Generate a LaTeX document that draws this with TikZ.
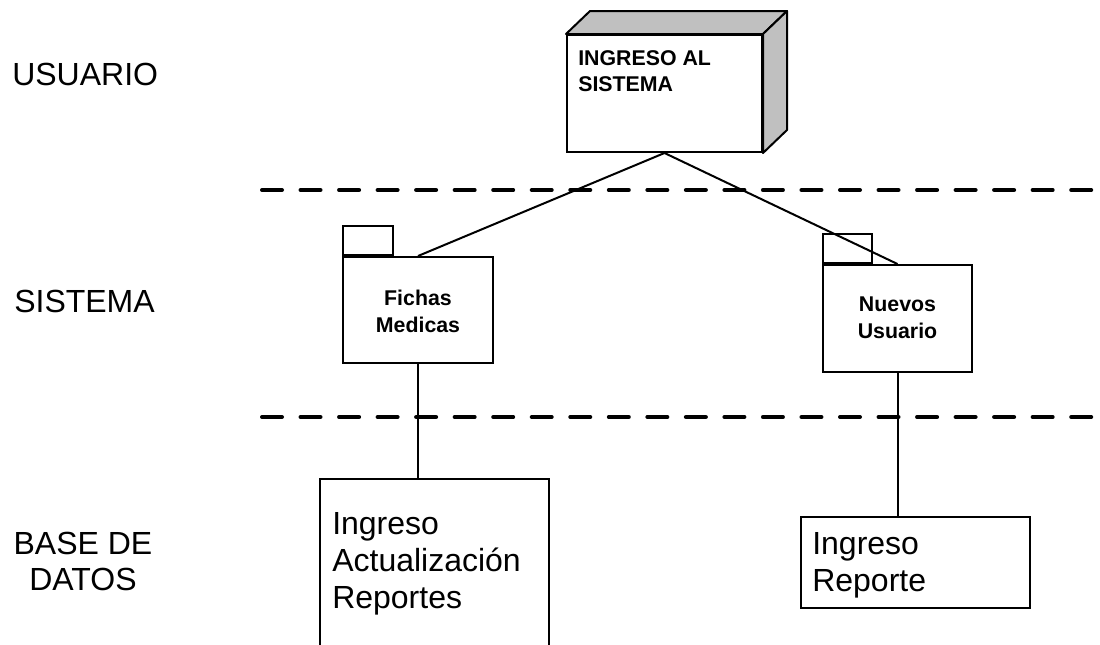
\documentclass[tikz,border=0pt]{standalone}
\usepackage{fontspec}
\setmainfont{Liberation Sans}
\definecolor{cubegray}{HTML}{C0C0C0}
\begin{document}
\begin{tikzpicture}[x=0.75pt,y=-0.75pt,
  outline/.style={draw=black,line width=1.5pt,fill=white,inner sep=0pt},
  link/.style={draw=black,line width=1.5pt},
  separator/.style={line width=3pt,line cap=round,dash pattern=on 15pt off 13.9pt},
  lane/.style={font=\fontsize{24}{27}\selectfont,inner sep=0pt},
  pkgtext/.style={font=\fontsize{16}{20}\selectfont\bfseries,align=center,inner sep=0pt,anchor=north},
  itemtext/.style={font=\fontsize{24}{28}\selectfont,align=left,inner sep=0pt,anchor=north west}]
\useasboundingbox (0,0) rectangle (1100,644);

% lane separators
\draw[separator] (262,190) -- (1100,190);
\draw[separator] (262,417) -- (1100,417);

% lane titles
\node[lane,anchor=north west] (usuario) at (12,63) {USUARIO};
\node[lane,anchor=north west] (sistema) at (14,290) {SISTEMA};
\node[lane,anchor=north,align=center] (basedatos) at (83,532) {BASE DE\\DATOS};

% 3D node: front face plus shaded top and side
\node[outline,minimum width={195*0.75pt},minimum height={117*0.75pt}] (ing) at (664.5,93.5) {};
\draw[line width=1.5pt,line join=round,fill=cubegray] (ing.north west) -- ([shift={(24,-23)}]ing.north west)
  -- ([shift={(24,-23)}]ing.north east) -- (ing.north east) -- cycle;
\draw[line width=1.5pt,line join=round,fill=cubegray] (ing.north east) -- ([shift={(24,-23)}]ing.north east)
  -- ([shift={(24,-23)}]ing.south east) -- (ing.south east) -- cycle;
\node[font=\fontsize{16}{20}\selectfont\bfseries,align=left,inner sep=0pt,anchor=north west] (ingtext) at (578,50) {INGRESO AL\\SISTEMA};

% packages
\node[outline,minimum width={150*0.75pt},minimum height={106*0.75pt}] (fm) at (418,310) {};
\node[outline,minimum width={50*0.75pt},minimum height={29*0.75pt},anchor=south west] (fmtab) at (fm.north west) {};
\node[pkgtext] (fmtext) at (418,290) {Fichas\\Medicas};

\node[outline,minimum width={149*0.75pt},minimum height={107*0.75pt}] (nu) at (897.5,318.5) {};
\node[outline,minimum width={49*0.75pt},minimum height={29*0.75pt},anchor=south west] (nutab) at (nu.north west) {};
\node[pkgtext] (nutext) at (897.5,297) {Nuevos\\Usuario};

% data boxes
\node[outline,minimum width={229*0.75pt},minimum height={190*0.75pt},anchor=north west] (db1) at (319,478) {};
\node[itemtext] (db1text) at (332,512) {Ingreso\\Actualización\\Reportes};

\node[outline,minimum width={229*0.75pt},minimum height={91*0.75pt},anchor=north west] (db2) at (800,516) {};
\node[itemtext] (db2text) at (812,532) {Ingreso\\Reporte};

% connectors
\draw[link] (ing.south) -- (fm.north);
\draw[link] (ing.south) -- (nu.north);
\draw[link] (fm.south) -- (fm.south |- db1.north);
\draw[link] (nu.south) -- (nu.south |- db2.north);
\end{tikzpicture}
\end{document}
